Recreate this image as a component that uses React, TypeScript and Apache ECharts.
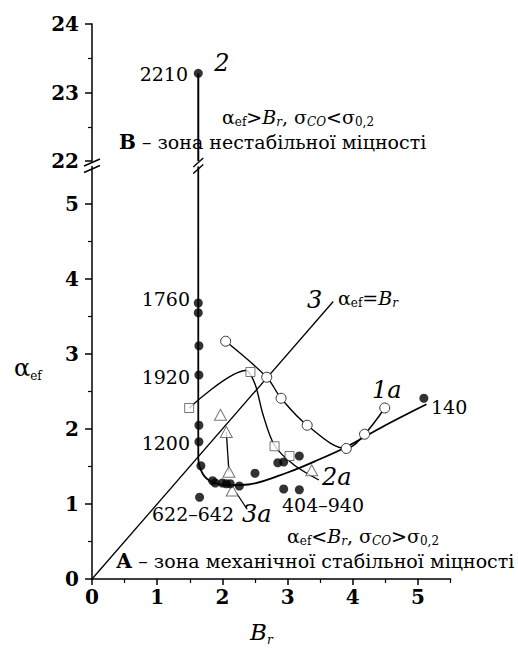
import { useEffect, useRef } from 'react';
import * as echarts from 'echarts';

// ---------------- data ----------------
const xMajorTicks = [0, 1, 2, 3, 4, 5];
const xMinorTicks = [0.5, 1.5, 2.5, 3.5, 4.5, 5.5];
const yLowMajorTicks = [0, 1, 2, 3, 4, 5];
const yLowMinorTicks = [0.5, 1.5, 2.5, 3.5, 4.5];
const yHighMajorTicks = [22, 23, 24];
const yHighMinorTicks = [22.5, 23.5];

// curve 2 (filled circles)
const series2Upper = [[1.63, 23.28]];
const series2UpperLine = [[1.63, 23.28], [1.63, 22]];
const series2Points = [
  [1.63, 3.68], [1.63, 3.55], [1.64, 3.11], [1.64, 2.72], [1.64, 2.05], [1.64, 1.83], [1.67, 1.51],
  [1.85, 1.31], [1.89, 1.28], [2.0, 1.28], [2.06, 1.27], [2.12, 1.27], [2.26, 1.24],
  [2.5, 1.41], [2.85, 1.55], [2.94, 1.56], [3.18, 1.64],
  [1.65, 1.09], [2.94, 1.2], [3.18, 1.19], [5.09, 2.41],
];
const series2Curve = [
  [1.63, 5.5], [1.63, 1.62], [1.7, 1.4], [1.85, 1.29], [2.1, 1.25], [2.4, 1.26],
  [3.0, 1.42], [3.5, 1.6], [3.9, 1.76], [4.5, 2.05], [5.13, 2.33],
];
// curve 1a (open circles)
const series1a = [[2.05, 3.17], [2.68, 2.69], [2.9, 2.41], [3.3, 2.05], [3.9, 1.74], [4.18, 1.93], [4.49, 2.28]];
// curve 2a (open squares)
const series2aPoints = [[1.49, 2.28], [2.43, 2.76], [2.8, 1.77], [3.03, 1.64]];
const series2aCurve = [[1.49, 2.28], [2.36, 2.78], [2.5, 2.6], [2.62, 2.2], [2.8, 1.78], [3.1, 1.52], [3.48, 1.32]];
// curve 3a (open triangles)
const series3aPoints = [[1.97, 2.19], [2.06, 1.96], [2.1, 1.43], [2.15, 1.18], [3.37, 1.45]];
const series3aLink = [[2.06, 1.96], [2.1, 1.43]];
const series3aLeader = [[2.22, 1.14], [2.38, 0.93]];
// line 3: alpha_ef = B_r
const line3 = [[0, 0], [3.7, 3.7]];

// ---------------- styles ----------------
const SERIF = 'DejaVu Serif';
const TICK_FONT = 'DejaVu Serif';
const BLACK = '#000';
const GRAY = '#555';

const main = (size = 19) => ({ fontFamily: SERIF, fontSize: size, lineHeight: 22, verticalAlign: 'middle', color: BLACK });
const mainI = (size = 19) => ({ ...main(size), fontStyle: 'italic' });
const sub = (size = 12) => ({ fontFamily: SERIF, fontSize: size, lineHeight: 10, verticalAlign: 'bottom', color: BLACK });
const subI = (size = 12) => ({ ...sub(size), fontStyle: 'italic' });
const boldT = (size = 20) => ({ ...main(size), fontWeight: 'bold' });

const richSet = {
  a: main(19),
  i: mainI(19),
  s: sub(12),
  si: subI(12),
  b: boldT(20),
};

function txt(x: number, y: number, text: string, opts: any = {}) {
  return {
    type: 'text',
    x,
    y,
    z: 100,
    style: {
      text,
      fontFamily: SERIF,
      fontSize: 19,
      fill: BLACK,
      align: 'left',
      verticalAlign: 'middle',
      ...opts,
    },
  };
}

function richTxt(x: number, y: number, text: string) {
  return {
    type: 'text',
    x,
    y,
    z: 100,
    style: {
      text,
      rich: richSet,
      fontFamily: SERIF,
      fontSize: 19,
      fill: BLACK,
      align: 'left',
      verticalAlign: 'middle',
    },
  };
}

const GRID_LEFT = 92;
const GRID_WIDTH = 358.6;

export default function App() {
  const ref = useRef<HTMLDivElement>(null);

  useEffect(() => {
    if (!ref.current) return;
    const chart = echarts.init(ref.current, null, { renderer: 'svg' });

    const tickLabel = {
      fontFamily: TICK_FONT,
      fontWeight: 'bold',
      fontSize: 20,
      color: BLACK,
    };
    const axisLine = { show: true, lineStyle: { color: BLACK, width: 1.5 } };

    const option: any = {
      animation: false,
      backgroundColor: '#fff',
      grid: [
        { left: GRID_LEFT, top: 24, width: GRID_WIDTH, height: 137 },
        { left: GRID_LEFT, top: 166.5, width: GRID_WIDTH, height: 412.5 },
      ],
      xAxis: [
        { type: 'value', gridIndex: 0, min: 0, max: 5.5, show: false },
        {
          type: 'value', gridIndex: 1, min: 0, max: 5.5, interval: 1, position: 'bottom',
          axisLine,
          axisTick: { show: true, customValues: xMajorTicks, length: 6, lineStyle: { color: BLACK, width: 1.5 } },
          axisLabel: { ...tickLabel, customValues: xMajorTicks, margin: 8 },
          splitLine: { show: false },
        },
        {
          type: 'value', gridIndex: 1, min: 0, max: 5.5, interval: 1, position: 'bottom', offset: 0,
          axisLine: { show: false },
          axisTick: { show: true, customValues: xMinorTicks, length: 4, lineStyle: { color: BLACK, width: 1.2 } },
          axisLabel: { show: false },
          splitLine: { show: false },
        },
      ],
      yAxis: [
        {
          type: 'value', gridIndex: 0, min: 22, max: 24, interval: 1, position: 'left',
          axisLine,
          axisTick: { show: true, customValues: yHighMajorTicks, length: 7, lineStyle: { color: BLACK, width: 1.5 } },
          axisLabel: { ...tickLabel, customValues: yHighMajorTicks, margin: 13 },
          splitLine: { show: false },
        },
        {
          type: 'value', gridIndex: 0, min: 22, max: 24, interval: 1, position: 'left', offset: 0,
          axisLine: { show: false },
          axisTick: { show: true, customValues: yHighMinorTicks, length: 4, lineStyle: { color: BLACK, width: 1.2 } },
          axisLabel: { show: false },
          splitLine: { show: false },
        },
        {
          type: 'value', gridIndex: 1, min: 0, max: 5.5, interval: 1, position: 'left',
          axisLine,
          axisTick: { show: true, customValues: yLowMajorTicks, length: 7, lineStyle: { color: BLACK, width: 1.5 } },
          axisLabel: { ...tickLabel, customValues: yLowMajorTicks, margin: 13 },
          splitLine: { show: false },
        },
        {
          type: 'value', gridIndex: 1, min: 0, max: 5.5, interval: 1, position: 'left', offset: 0,
          axisLine: { show: false },
          axisTick: { show: true, customValues: yLowMinorTicks, length: 4, lineStyle: { color: BLACK, width: 1.2 } },
          axisLabel: { show: false },
          splitLine: { show: false },
        },
      ],
      series: [
        {
          type: 'line', xAxisIndex: 0, yAxisIndex: 0, data: series2UpperLine, symbol: 'none',
          lineStyle: { color: BLACK, width: 2 }, z: 3,
        },
        {
          type: 'scatter', xAxisIndex: 0, yAxisIndex: 0, data: series2Upper, symbol: 'circle', symbolSize: 9,
          itemStyle: { color: BLACK }, z: 5,
        },
        {
          type: 'line', xAxisIndex: 1, yAxisIndex: 2, data: line3, symbol: 'none',
          lineStyle: { color: BLACK, width: 1.3 }, z: 2,
        },
        {
          type: 'line', xAxisIndex: 1, yAxisIndex: 2, data: series2Curve, symbol: 'none', smooth: 0.35,
          lineStyle: { color: BLACK, width: 1.8 }, z: 3,
        },
        {
          type: 'scatter', xAxisIndex: 1, yAxisIndex: 2, data: series2Points, symbol: 'circle', symbolSize: 9,
          itemStyle: { color: BLACK }, z: 6,
        },
        {
          type: 'line', xAxisIndex: 1, yAxisIndex: 2, data: series1a, smooth: 0.35,
          symbol: 'circle', symbolSize: 10, showSymbol: true,
          lineStyle: { color: BLACK, width: 1.4 },
          itemStyle: { color: '#fff', borderColor: '#333', borderWidth: 1 }, z: 4,
        },
        {
          type: 'line', xAxisIndex: 1, yAxisIndex: 2, data: series2aCurve, symbol: 'none', smooth: 0.3,
          lineStyle: { color: BLACK, width: 1.4 }, z: 3,
        },
        {
          type: 'scatter', xAxisIndex: 1, yAxisIndex: 2, data: series2aPoints, symbol: 'rect', symbolSize: 9,
          itemStyle: { color: '#fff', borderColor: GRAY, borderWidth: 1 }, z: 5,
        },
        {
          type: 'line', xAxisIndex: 1, yAxisIndex: 2, data: series3aLink, symbol: 'none',
          lineStyle: { color: BLACK, width: 1.3 }, z: 3,
        },
        {
          type: 'line', xAxisIndex: 1, yAxisIndex: 2, data: series3aLeader, symbol: 'none',
          lineStyle: { color: BLACK, width: 1.3 }, z: 3,
        },
        {
          type: 'scatter', xAxisIndex: 1, yAxisIndex: 2, data: series3aPoints, symbol: 'triangle', symbolSize: [12, 11],
          itemStyle: { color: '#fff', borderColor: GRAY, borderWidth: 1 }, z: 5,
        },
      ],
    };

    chart.setOption(option);

    const yTop = chart.convertToPixel({ gridIndex: 0 }, [0, 22]) as number[];
    const yBot = chart.convertToPixel({ gridIndex: 1 }, [0, 5.5]) as number[];
    const lineX = chart.convertToPixel({ xAxisIndex: 1 }, series2Upper[0][0]) as number;
    const ax = yTop[0];
    const c1 = yTop[1] + 1.5;
    const c2 = yBot[1] + 2.5;
    const slash = (cx: number, cy: number, dx: number, dy: number) => ({
      type: 'line', z: 101,
      shape: { x1: cx - dx, y1: cy + dy, x2: cx + dx, y2: cy - dy },
      style: { stroke: BLACK, lineWidth: 1.4 },
    });

    const graphic: any[] = [
      slash(ax, c1, 8, 3.5), slash(ax, c2, 8, 3.5),
      slash(lineX, c1, 5, 4.5), slash(lineX, c2, 5, 4.5),
      txt(188, 74, '2210', { align: 'right' }),
      txt(222, 63, '2', { align: 'center', fontStyle: 'italic', fontSize: 24 }),
      txt(190, 299, '1760', { align: 'right' }),
      txt(190, 377, '1920', { align: 'right' }),
      txt(190, 443, '1200', { align: 'right' }),
      txt(152, 514, '622–642'),
      txt(282, 505, '404–940'),
      txt(431, 407, '140'),
      txt(242, 514, '3a', { fontStyle: 'italic', fontSize: 24 }),
      txt(322, 477, '2a', { fontStyle: 'italic', fontSize: 24 }),
      txt(372, 390, '1a', { fontStyle: 'italic', fontSize: 24 }),
      txt(307, 300, '3', { fontStyle: 'italic', fontSize: 24 }),
      richTxt(338, 298, '{a|α}{s|ef}{a|=}{i|B}{si|r}'),
      richTxt(222, 117, '{a|α}{s|ef}{a|>}{i|B}{si|r}{a|, σ}{si|CO}{a|<σ}{s|0,2}'),
      richTxt(119, 142, '{b|В}{a| – зона нестабільної міцності}'),
      richTxt(287, 536, '{a|α}{s|ef}{a|<}{i|B}{si|r}{a|, σ}{si|CO}{a|>σ}{s|0,2}'),
      richTxt(116, 561, '{b|А}{a| – зона механічної стабільної міцності}'),
      {
        type: 'text', x: 14, y: 368, z: 100,
        style: {
          text: '{a|α}{s|ef}',
          rich: { a: { ...main(24), lineHeight: 28 }, s: sub(12) },
          align: 'left', verticalAlign: 'middle', fill: BLACK,
        },
      },
      {
        type: 'text', x: 250, y: 632, z: 100,
        style: {
          text: '{i|B}{si|r}',
          rich: { i: { ...mainI(23), lineHeight: 28 }, si: subI(12) },
          align: 'left', verticalAlign: 'middle', fill: BLACK,
        },
      },
    ];

    chart.setOption({ graphic });

    return () => {
      chart.dispose();
    };
  }, []);

  return (
    <div
      ref={ref}
      style={{ position: 'fixed', left: 0, top: 0, width: 518, height: 655, background: '#fff' }}
    />
  );
}
